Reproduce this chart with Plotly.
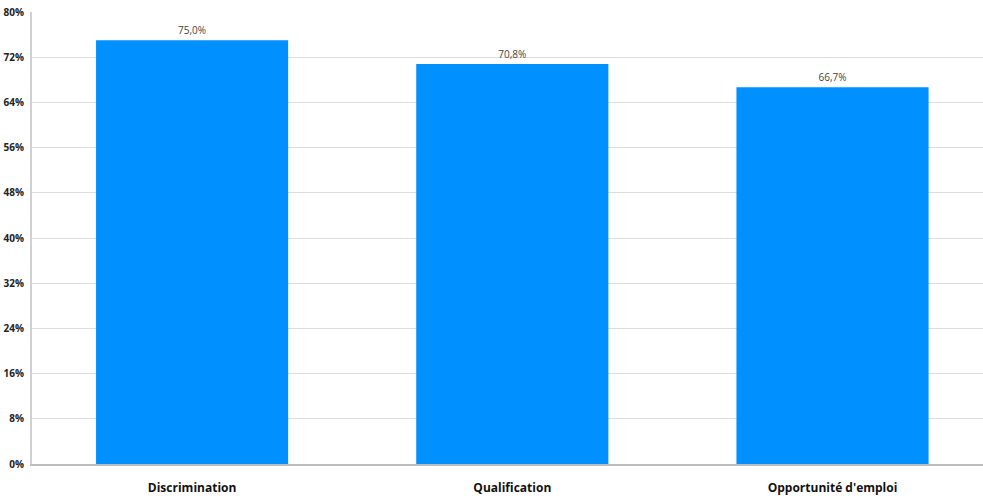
import plotly.graph_objects as go

categories = ["Discrimination", "Qualification", "Opportunité d'emploi"]
values = [75.0, 70.8, 66.7]
y_ticks = [0, 8, 16, 24, 32, 40, 48, 56, 64, 72, 80]

labels = [f"{v:.1f}%".replace(".", ",") for v in values]

fig = go.Figure(
    go.Bar(
        x=categories,
        y=values,
        width=0.6,
        marker=dict(color="#0090FF", line=dict(width=0)),
        text=labels,
        textposition="outside",
        textfont=dict(family="Open Sans", size=10, color="#444444"),
        cliponaxis=False,
    )
)

fig.update_layout(
    width=983,
    height=496,
    margin=dict(l=32, r=0, t=12, b=32),
    plot_bgcolor="white",
    paper_bgcolor="white",
    showlegend=False,
    bargap=0.4,
)

fig.update_xaxes(
    range=[-0.5, 2.47],
    showgrid=False,
    showline=True,
    linecolor="#bdbdbd",
    linewidth=2,
    ticks="",
    ticklabelstandoff=12,
    tickfont=dict(family="Open Sans", size=12, color="#111111", weight="bold"),
)

fig.update_yaxes(
    range=[0, 80],
    tickvals=y_ticks,
    ticktext=[f"{t}%" for t in y_ticks],
    showgrid=True,
    gridcolor="#dcdcdc",
    gridwidth=1,
    showline=True,
    linecolor="#d0d0d0",
    linewidth=2,
    zeroline=False,
    ticks="",
    ticklabelstandoff=4,
    tickfont=dict(family="Open Sans", size=10, color="#222222", weight="bold"),
)

fig.write_html("out.html")
